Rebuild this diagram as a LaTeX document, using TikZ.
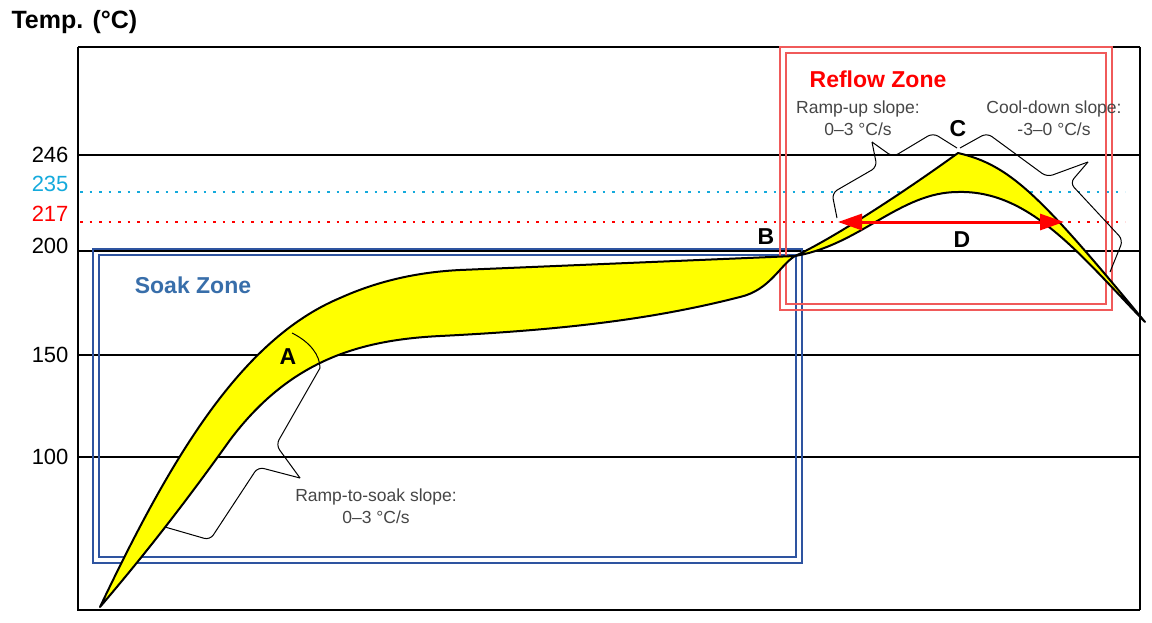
\documentclass[tikz,border=0pt]{standalone}
\usepackage{fontspec}
\setmainfont{Liberation Sans}
\usetikzlibrary{arrows.meta}
\definecolor{soakblue}{RGB}{46,84,160}
\definecolor{soaktxt}{RGB}{56,110,170}
\definecolor{reflowred}{RGB}{240,90,90}
\definecolor{cyanl}{RGB}{20,170,220}
\definecolor{slopegray}{RGB}{70,70,70}
\definecolor{bandyellow}{RGB}{255,255,0}
\begin{document}
\begin{tikzpicture}[x=1pt,y=-1pt,
  grid/.style={black,line width=1.6pt},
  ticklab/.style={anchor=east,font=\fontsize{22}{24}\selectfont},
  letter/.style={font=\bfseries\fontsize{23}{25}\selectfont},
  slope/.style={align=center,text=slopegray,font=\fontsize{17.5}{22}\selectfont},
  brace/.style={black,line width=1pt,rounded corners=6pt}]
\useasboundingbox (0,0) rectangle (1152,622);
% frame and grid
\draw[grid] (78,47) -- (1140,47);
\draw[grid] (78,47) -- (78,610) -- (1140,610);
\draw[grid] (1140,47) -- (1140,610);
\foreach \yy in {155,251,355,457} \draw[grid] (78,\yy) -- (1140,\yy);
\draw[cyanl,line width=2.5pt,dash pattern=on 2.5pt off 7pt] (80,192) -- (1125,192);
\draw[red,line width=2.5pt,dash pattern=on 2.5pt off 7pt] (80,222) -- (1125,222);
% tick labels
\node[ticklab] (t246) at (72,155) {246};
\node[ticklab,text=cyanl] (t235) at (72,184) {235};
\node[ticklab,text=red] (t217) at (72,214) {217};
\node[ticklab] (t200) at (72,246) {200};
\node[ticklab] (t150) at (72,355) {150};
\node[ticklab] (t100) at (72,457) {100};
\node[anchor=west,font=\bfseries\fontsize{25}{28}\selectfont] (title) at (8,22) {Temp. (°C)};
% zones
\draw[soakblue,line width=1.8pt] (93,249) rectangle (802,563);
\draw[soakblue,line width=1.8pt] (99,255) rectangle (796,557);
\draw[reflowred,line width=1.8pt] (780,47) rectangle (1112,310);
\draw[reflowred,line width=1.8pt] (786,53) rectangle (1106,304);
% band
\draw[fill=bandyellow,line width=2pt,line join=round]
  (100,607) .. controls (170,460) and (240,340) .. (340,298)
  .. controls (380,280) and (420,272) .. (460,270)
  -- (795,256)
  .. controls (830,240) and (900,195) .. (958,153)
  .. controls (1010,165) and (1040,195) .. (1145,322)
  .. controls (1080,255) and (1030,190) .. (958,192)
  .. controls (900,192) and (860,245) .. (795,256)
  .. controls (780,265) and (770,290) .. (740,297)
  .. controls (650,320) and (560,330) .. (440,336)
  .. controls (360,340) and (290,360) .. (230,440)
  .. controls (180,510) and (140,560) .. (100,607) -- cycle;
% A marker
\draw[line width=1pt] (292,333) .. controls (310,342) and (320,355) .. (320,368);
% D arrow
\draw[red,line width=3pt,{Triangle[length=24pt,width=16pt]}-{Triangle[length=24pt,width=16pt]}] (838,222) -- (1064,222);
% braces
\draw[brace] (165,527) -- (210,540) -- (258,467) -- (300,478);
\draw[brace] (300,478) -- (276,445) -- (320,368);
\draw[brace] (837,218) -- (832,193) -- (877,167) -- (872,142);
\draw[brace] (872,142) -- (893,157) -- (933,133) -- (957,148);
\draw[brace] (960,148) -- (987,133) -- (1047,177) -- (1088,162);
\draw[brace] (1088,162) -- (1070,183) -- (1123,240) -- (1110,272);
% labels
\node[letter] (A) at (288,357) {A};
\node[letter] (B) at (766,237) {B};
\node[letter] (C) at (958,129) {C};
\node[letter] (D) at (962,240) {D};
\node[text=soaktxt,font=\bfseries\fontsize{23}{26}\selectfont] (soak) at (193,285) {Soak Zone};
\node[text=red,font=\bfseries\fontsize{23}{26}\selectfont] (reflow) at (878,79) {Reflow Zone};
\node[slope] (rts) at (376,506) {Ramp-to-soak slope:\\0–3 °C/s};
\node[slope] (ru) at (858,118) {Ramp-up slope:\\0–3 °C/s};
\node[slope] (cd) at (1054,118) {Cool-down slope:\\-3–0 °C/s};
\end{tikzpicture}
\end{document}
